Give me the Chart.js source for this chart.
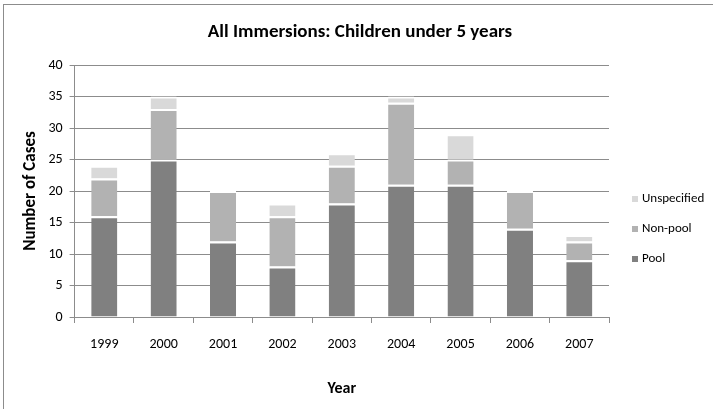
<!DOCTYPE html>
<html>
<head>
<meta charset="utf-8">
<script src="https://cdn.jsdelivr.net/npm/chart.js@4/dist/chart.umd.min.js"></script>
<style>
  html, body { margin: 0; padding: 0; background: #fff; }
  #wrap { position: absolute; left: 0; top: 0; width: 713px; height: 409px; }
</style>
</head>
<body>
<div id="wrap"><canvas id="c" width="713" height="409"></canvas></div>
<script>
const years = ['1999', '2000', '2001', '2002', '2003', '2004', '2005', '2006', '2007'];
const pool = [16, 25, 12, 8, 18, 21, 21, 14, 9];
const nonPool = [6, 8, 8, 8, 6, 13, 4, 6, 3];
const unspecified = [2, 2, 0, 2, 2, 1, 4, 0, 1];
const yTicks = [0, 5, 10, 15, 20, 25, 30, 35, 40];
const chartTitle = 'All Immersions: Children under 5 years';

const FONT = "Carlito, 'Liberation Sans Narrow', Lato, 'Open Sans', sans-serif";

const frame = {
  id: 'frame',
  beforeDraw(chart) {
    const ctx = chart.ctx;
    ctx.save();
    ctx.fillStyle = '#fff';
    ctx.fillRect(0, 0, chart.width, chart.height);
    ctx.strokeStyle = '#8c8c8c';
    ctx.lineWidth = 1;
    ctx.strokeRect(3.5, 4.5, 720, 420);
    ctx.restore();
  }
};

const titleAndLegend = {
  id: 'titleAndLegend',
  afterDraw(chart) {
    const ctx = chart.ctx;
    const ds = chart.data.datasets;
    ctx.save();
    ctx.fillStyle = '#000';
    ctx.font = "bold 19px " + FONT;
    ctx.textAlign = 'center';
    ctx.textBaseline = 'middle';
    ctx.fillText(chartTitle, 360, 32);

    ctx.font = "13px " + FONT;
    ctx.textAlign = 'left';
    const x = 632, y0 = 199, step = 30;
    for (let i = ds.length - 1, k = 0; i >= 0; i--, k++) {
      const y = y0 + k * step;
      ctx.fillStyle = ds[i].backgroundColor;
      ctx.fillRect(x, y - 3, 6, 6);
      ctx.fillStyle = '#000';
      ctx.fillText(ds[i].label, x + 10, y);
    }
    ctx.restore();
  }
};

new Chart(document.getElementById('c'), {
  type: 'bar',
  data: {
    labels: years,
    datasets: [
      { label: 'Pool', data: pool, backgroundColor: '#808080' },
      { label: 'Non-pool', data: nonPool, backgroundColor: '#b2b2b2' },
      { label: 'Unspecified', data: unspecified, backgroundColor: '#d9d9d9' }
    ].map(d => Object.assign(d, {
      borderColor: '#ffffff',
      borderWidth: { top: 2, left: 0, right: 0, bottom: 0 },
      borderSkipped: false,
      categoryPercentage: 0.44,
      barPercentage: 1.0
    }))
  },
  options: {
    responsive: false,
    animation: false,
    devicePixelRatio: 1,
    layout: { padding: { left: 21, right: 104, top: 65, bottom: 10 } },
    plugins: {
      legend: { display: false },
      tooltip: { enabled: false },
      title: { display: false }
    },
    scales: {
      x: {
        stacked: true,
        grid: {
          display: true,
          offset: true,
          drawOnChartArea: false,
          drawTicks: true,
          tickLength: 6,
          color: '#8c8c8c'
        },
        border: { display: true, color: '#8c8c8c' },
        ticks: { color: '#000', font: { family: FONT, size: 14 }, padding: 13, maxRotation: 0 },
        title: {
          display: true, text: 'Year', color: '#000',
          font: { family: FONT, size: 16, weight: 'bold' },
          padding: { top: 14, bottom: 0 }
        }
      },
      y: {
        stacked: true,
        min: 0, max: 40,
        afterBuildTicks(axis) { axis.ticks = yTicks.map(v => ({ value: v })); },
        grid: { color: '#8c8c8c', tickLength: 5, drawTicks: true },
        border: { display: true, color: '#8c8c8c' },
        ticks: { color: '#000', font: { family: FONT, size: 14 }, padding: 7 },
        title: {
          display: true, text: 'Number of Cases', color: '#000',
          font: { family: FONT, size: 17, weight: 'bold' },
          padding: { top: 0, bottom: 0 }
        }
      }
    }
  },
  plugins: [frame, titleAndLegend]
});
</script>
</body>
</html>
